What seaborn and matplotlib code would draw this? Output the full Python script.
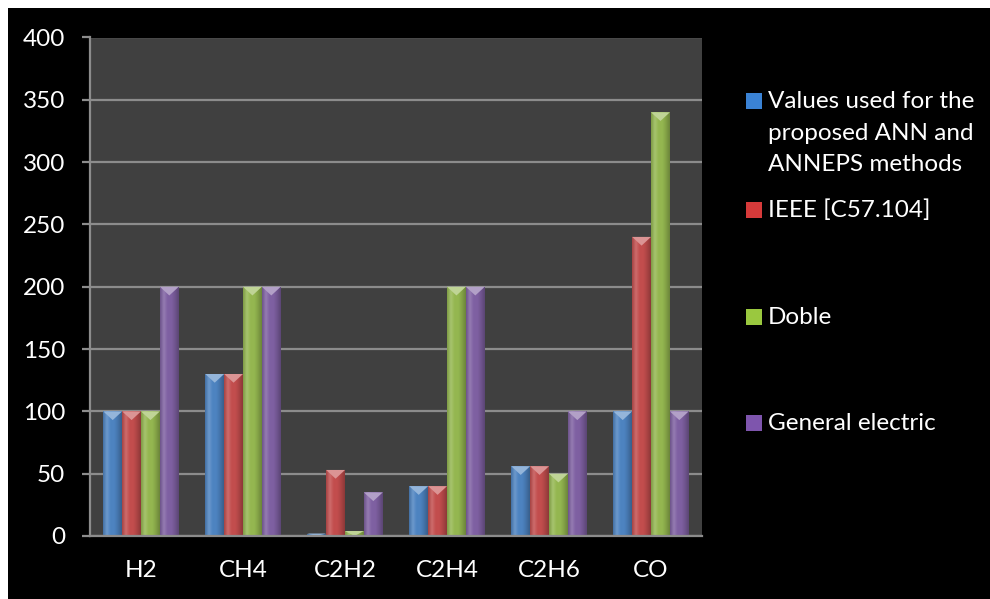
import numpy as np
import pandas as pd
import matplotlib
matplotlib.use("Agg")
import matplotlib.pyplot as plt
import matplotlib.colors as mcolors
from matplotlib.patches import Rectangle, Polygon
import seaborn as sns

# data
gases = ["H2", "CH4", "C2H2", "C2H4", "C2H6", "CO"]
ann_values = [100, 130, 2, 40, 56, 100]
ieee_values = [100, 130, 53, 40, 56, 240]
doble_values = [100, 200, 4, 200, 50, 340]
ge_values = [200, 200, 35, 200, 100, 100]
methods = ["Values used for the\nproposed ANN and\nANNEPS methods",
           "IEEE [C57.104]", "Doble", "General electric"]
colors = ["#3A82D4", "#D63A3A", "#9AC83F", "#7E55AD"]

df = pd.DataFrame({
    "gas": gases * 4,
    "method": np.repeat(methods, len(gases)),
    "value": ann_values + ieee_values + doble_values + ge_values,
})

sns.set_style("dark")
plt.rcParams["font.family"] = ["Lato", "DejaVu Sans"]

W, H = 990, 599
fig = plt.figure(figsize=(W / 100, H / 100), dpi=100, facecolor="white")
# black chart area with thin white margin top/left
fig.patches.append(Rectangle((8 / W, 0), 1 - 8 / W, 1 - 8 / H, transform=fig.transFigure,
                             facecolor="black", edgecolor="none", zorder=-10))

def fx(x):
    return x / W

def fy(y):
    return 1 - y / H

ax = fig.add_axes([fx(90), fy(536), (702 - 90) / W, (536 - 37.5) / H])
ax.set_facecolor("#404040")

sns.barplot(data=df, x="gas", y="value", hue="method", hue_order=methods,
            palette=colors, width=0.74, gap=0, dodge=True, legend=False,
            edgecolor="none", ax=ax)

# shade each bar and add the bevelled cap
for p in list(ax.patches):
    h = p.get_height()
    if h <= 0:
        continue
    x0 = p.get_x()
    w = p.get_width()
    base = np.array(mcolors.to_rgb(p.get_facecolor()))
    dark = base * 0.72
    light = np.clip(base + (1 - base) * 0.18, 0, 1)
    cmap = mcolors.LinearSegmentedColormap.from_list(
        "g", [base * 0.85, light, base, base, base * 0.88, dark])
    grad = np.linspace(0, 1, 64).reshape(1, -1)
    im = ax.imshow(grad, cmap=cmap, extent=(x0, x0 + w, 0, h), aspect="auto",
                   origin="lower", zorder=p.get_zorder() + 0.1, interpolation="bicubic")
    im.set_clip_path(p)
    d = min(7.0, h)
    cap = Polygon([(x0, h), (x0 + w, h), (x0 + w / 2, h - d)], closed=True,
                  facecolor=np.clip(base + (1 - base) * 0.4, 0, 1),
                  edgecolor="none", zorder=p.get_zorder() + 0.2)
    ax.add_patch(cap)

ax.set_xlim(-0.5, len(gases) - 0.5)
ax.set_ylim(0, 400)
ax.set_yticks(np.arange(0, 401, 50))
ax.grid(axis="y", color="#8C8C8C", linewidth=1.6)
ax.grid(axis="x", visible=False)
ax.set_axisbelow(True)
ax.set_xlabel("")
ax.set_ylabel("")

ax.set_xticks(range(len(gases)))
ax.set_xticklabels(gases)
ax.set_xticks(np.arange(-0.5, len(gases), 1), minor=True)
ax.tick_params(axis="x", which="major", length=0, pad=17, labelsize=17.5, colors="white")
ax.tick_params(axis="x", which="minor", length=7, width=1.6, color="#8C8C8C", direction="out")
ax.tick_params(axis="y", length=6, width=1.6, color="#8C8C8C", direction="out",
               pad=12, labelsize=17.5, labelcolor="white", left=True)

for side in ["top", "right"]:
    ax.spines[side].set_visible(False)
for side in ["left", "bottom"]:
    ax.spines[side].set_visible(True)
    ax.spines[side].set_color("#8C8C8C")
    ax.spines[side].set_linewidth(1.6)

# legend drawn manually to follow the reference spacing
legend_y = [101, 210, 317, 423]
for label, color, y in zip(methods, colors, legend_y):
    fig.patches.append(Rectangle((fx(746), fy(y + 8)), 16 / W, 16 / H,
                                 transform=fig.transFigure, facecolor=color,
                                 edgecolor="none", zorder=5))
    if "\n" in label:
        fig.text(fx(768), fy(y - 10), label, color="white", fontsize=17.5,
                 va="top", ha="left", linespacing=1.62)
    else:
        fig.text(fx(768), fy(y), label, color="white", fontsize=17.5,
                 va="center", ha="left")

fig.savefig("out.png", dpi=100, facecolor=fig.get_facecolor())
